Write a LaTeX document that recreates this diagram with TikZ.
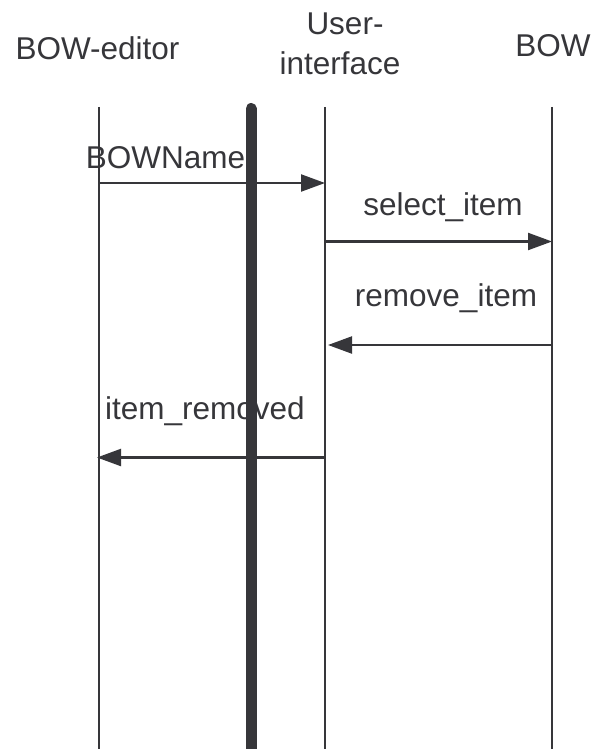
\documentclass[tikz,border=0pt]{standalone}
\usepackage{fontspec}
\setmainfont{Liberation Sans}
\usetikzlibrary{arrows.meta}
\definecolor{ink}{RGB}{54,54,58}
\begin{document}
\begin{tikzpicture}[x=1pt,y=-1pt,
  lifeline/.style={draw=ink,line width=2.2pt},
  bar/.style={draw=ink,line width=11pt,line cap=round},
  msg/.style={draw=ink,line width=2.2pt,-{Triangle[length=24pt,width=17pt]}},
  lbl/.style={text=ink,font=\fontsize{31.5}{40}\selectfont,inner sep=0pt,anchor=base},
  hdr/.style={text=ink,font=\fontsize{31.5}{40}\selectfont,inner sep=0pt,anchor=base,align=center}]
\useasboundingbox (0,0) rectangle (592,749);
% headers
\node[hdr] (hEd) at (97.5,60) {BOW-editor};
\node[hdr] (hUi1) at (345,35) {User-};
\node[hdr] (hUi2) at (340,75) {interface};
\node[hdr] (hBow) at (553,57) {BOW};
% lifelines
\coordinate (edT) at (99,107);  \coordinate (edB) at (99,749);
\coordinate (uiT) at (325,107); \coordinate (uiB) at (325,749);
\coordinate (bwT) at (552,107); \coordinate (bwB) at (552,749);
\draw[lifeline] (edT) -- (edB);
\draw[lifeline] (uiT) -- (uiB);
\draw[lifeline] (bwT) -- (bwB);
% messages
\coordinate (m1a) at (99,183);  \coordinate (m1b) at (325,183);
\coordinate (m2a) at (325,241.5); \coordinate (m2b) at (552,241.5);
\coordinate (m3a) at (552,345); \coordinate (m3b) at (328,345);
\coordinate (m4a) at (325,457.5); \coordinate (m4b) at (97,457.5);
\draw[msg] (m1a) -- (m1b);
\draw[msg] (m2a) -- (m2b);
\draw[msg] (m3a) -- (m3b);
\draw[msg] (m4a) -- (m4b);
\node[lbl] (l1) at (165.5,168) {BOWName};
\node[lbl] (l2) at (443,215) {select\_item};
\node[lbl] (l3) at (446,306) {remove\_item};
\node[lbl] (l4) at (205,419) {item\_removed};
% thick bar
\coordinate (barT) at (251,108.5); \coordinate (barB) at (251,760);
\draw[bar] (barT) -- (barB);
\end{tikzpicture}
\end{document}
